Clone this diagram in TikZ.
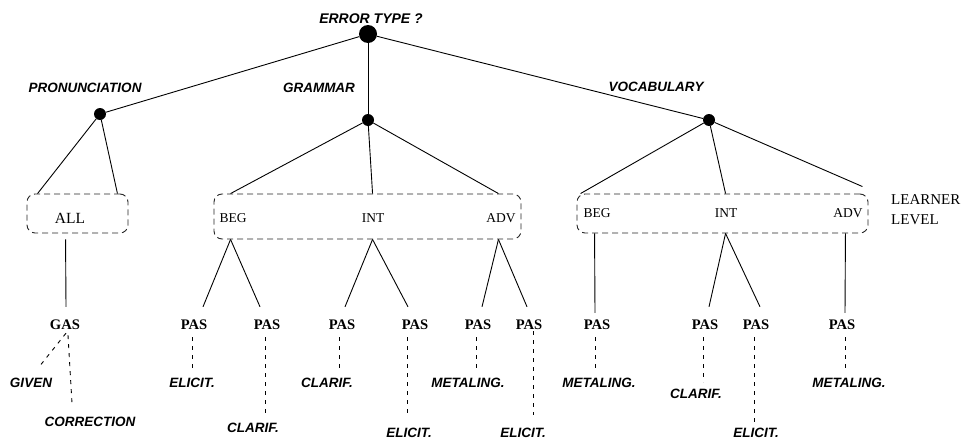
\documentclass[tikz,border=0pt]{standalone}
\usepackage{fontspec}
\setmainfont{Liberation Serif}
\newfontfamily\labfont{Liberation Sans}
\usetikzlibrary{calc}
\begin{document}
\begin{tikzpicture}[x=1pt,y=-1pt,
  dot/.style={circle,fill=black,inner sep=0pt,minimum size=12pt},
  bigdot/.style={circle,fill=black,inner sep=0pt,minimum size=18pt},
  cat/.style={font=\labfont\fontsize{13.5}{16}\selectfont\bfseries\itshape,inner sep=0pt},
  fb/.style={font=\labfont\fontsize{13.5}{16}\selectfont\bfseries\itshape,inner sep=0pt},
  lvl/.style={font=\fontsize{13.5}{16}\selectfont,inner sep=0pt},
  pas/.style={font=\fontsize{14.6}{17}\selectfont\bfseries,inner sep=0pt,minimum height=24pt},
  lbox/.style={draw=black!85,dash pattern=on 6pt off 4pt,rounded corners=8pt,line width=0.9pt,inner sep=0pt},
  edge/.style={line width=0.9pt},
  dl/.style={line width=0.9pt,dash pattern=on 4pt off 5pt},
]
\useasboundingbox (0,0) rectangle (966,442);

% top level
\node[bigdot] (root) at (368,34) {};
\node[cat,font=\labfont\fontsize{14}{16}\selectfont\bfseries\itshape] (qt) at (371,19) {ERROR TYPE ?};
\node[dot] (pron) at (100,114) {};
\node[dot] (gram) at (368,120) {};
\node[dot] (voc) at (709,120) {};
\node[cat] (lpron) at (85,88) {PRONUNCIATION};
\node[cat] (lgram) at (319,88) {GRAMMAR};
\node[cat] (lvoc) at (656,87) {VOCABULARY};
\draw[edge] (root) -- (pron);
\draw[edge] (root) -- (gram);
\draw[edge] (root) -- (voc);

% level boxes
\node[lbox,minimum width=101pt,minimum height=39pt] (pbox) at (77.5,213.5) {};
\node[lbox,minimum width=307pt,minimum height=45pt] (gbox) at (367.5,216.5) {};
\node[lbox,minimum width=291pt,minimum height=39pt] (vbox) at (722.5,213.5) {};
\node[lvl,font=\fontsize{15.5}{18}\selectfont] (pall) at (70,218) {ALL};
\node[lvl] (gbeg) at (233,218) {BEG};
\node[lvl] (gint) at (373,218) {INT};
\node[lvl] (gadv) at (501,218) {ADV};
\node[lvl] (vbeg) at (597,213) {BEG};
\node[lvl] (vint) at (726,213) {INT};
\node[lvl] (vadv) at (848,213) {ADV};
\node[anchor=west,align=left,inner sep=0pt,font=\fontsize{15}{20}\selectfont] (ll) at (891,210) {LEARNER\\LEVEL};

\draw[edge] (pron) -- ([xshift=11pt]pbox.north west);
\draw[edge] (pron) -- ([xshift=-11pt]pbox.north east);
\draw[edge] (gram) -- ([xshift=17pt]gbox.north west);
\draw[edge] (gram) -- ([xshift=159pt]gbox.north west);
\draw[edge] (gram) -- ([xshift=-23pt]gbox.north east);
\draw[edge] (voc) -- ([xshift=4pt]vbox.north west);
\draw[edge] (voc) -- ([xshift=149pt]vbox.north west);
\draw[edge] (voc) -- ([xshift=-6pt,yshift=7pt]vbox.north east);

% box bottom points
\coordinate (pa) at ([xshift=39pt,yshift=-6pt]pbox.south west);
\coordinate (ga1) at ([xshift=17pt]gbox.south west);
\coordinate (ga2) at ([xshift=159pt]gbox.south west);
\coordinate (ga3) at ([xshift=-23pt]gbox.south east);
\coordinate (va1) at ([xshift=18pt]vbox.south west);
\coordinate (va2) at ([xshift=149pt]vbox.south west);
\coordinate (va3) at ([xshift=-23pt]vbox.south east);

% strategy nodes
\node[pas] (gas) at (65,325) {GAS};
\node[pas] (g1) at (194,325) {PAS};
\node[pas] (g2) at (267,325) {PAS};
\node[pas] (g3) at (342,325) {PAS};
\node[pas] (g4) at (415,325) {PAS};
\node[pas] (g5) at (478,325) {PAS};
\node[pas] (g6) at (529,325) {PAS};
\node[pas] (v1) at (597,325) {PAS};
\node[pas] (v2) at (705,325) {PAS};
\node[pas] (v3) at (756,325) {PAS};
\node[pas] (v4) at (842,325) {PAS};

\draw[edge] (pa) -- ([xshift=1pt,yshift=6pt]gas.north);
\draw[edge] (ga1) -- ([xshift=9pt,yshift=6pt]g1.north);
\draw[edge] (ga1) -- ([xshift=-7pt,yshift=6pt]g2.north);
\draw[edge] (ga2) -- ([xshift=3pt,yshift=6pt]g3.north);
\draw[edge] (ga2) -- ([xshift=-7pt,yshift=6pt]g4.north);
\draw[edge] (ga3) -- ([xshift=4pt,yshift=6pt]g5.north);
\draw[edge] (ga3) -- ([xshift=-2pt,yshift=6pt]g6.north);
\draw[edge] (va1) -- ([xshift=-2pt]v1.north);
\draw[edge] (va2) -- ([xshift=4pt,yshift=6pt]v2.north);
\draw[edge] (va2) -- ([xshift=4pt,yshift=6pt]v3.north);
\draw[edge] (va3) -- ([xshift=3pt]v4.north);

% feedback labels
\node[fb] (fgiven) at (31,383) {GIVEN};
\node[fb] (fcorr) at (90,422) {CORRECTION};
\node[fb] (f1) at (192,383) {ELICIT.};
\node[fb] (f2) at (253,428) {CLARIF.};
\node[fb] (f3) at (327,383) {CLARIF.};
\node[fb] (f4) at (409,433) {ELICIT.};
\node[fb] (f5) at (468,383) {METALING.};
\node[fb] (f6) at (523,433) {ELICIT.};
\node[fb] (f7) at (599,383) {METALING.};
\node[fb] (f8) at (696,394) {CLARIF.};
\node[fb] (f9) at (756,433) {ELICIT.};
\node[fb] (f10) at (849,383) {METALING.};

\draw[dl] ([xshift=1pt,yshift=4pt]gas.south) -- ++(-28,35);
\draw[dl] ([xshift=3pt,yshift=2pt]gas.south) -- ++(4,68);
\draw[dl] ([xshift=-2pt]g1.south) -- ++(0,33);
\draw[dl] ([xshift=-2pt]g2.south) -- ++(0,76);
\draw[dl] ([xshift=-3pt]g3.south) -- ++(0,33);
\draw[dl] ([xshift=-8pt]g4.south) -- ++(0,76);
\draw[dl] ([xshift=-2pt]g5.south) -- ++(0,33);
\draw[dl] ([xshift=4pt,yshift=6pt]g6.south) -- ++(0,84);
\draw[dl] ([xshift=-2pt]v1.south) -- ++(0,32);
\draw[dl] ([xshift=-2pt]v2.south) -- ++(0,45);
\draw[dl] ([xshift=-2pt]v3.south) -- ++(0,85);
\draw[dl] ([xshift=3pt]v4.south) -- ++(0,32);
\end{tikzpicture}
\end{document}
